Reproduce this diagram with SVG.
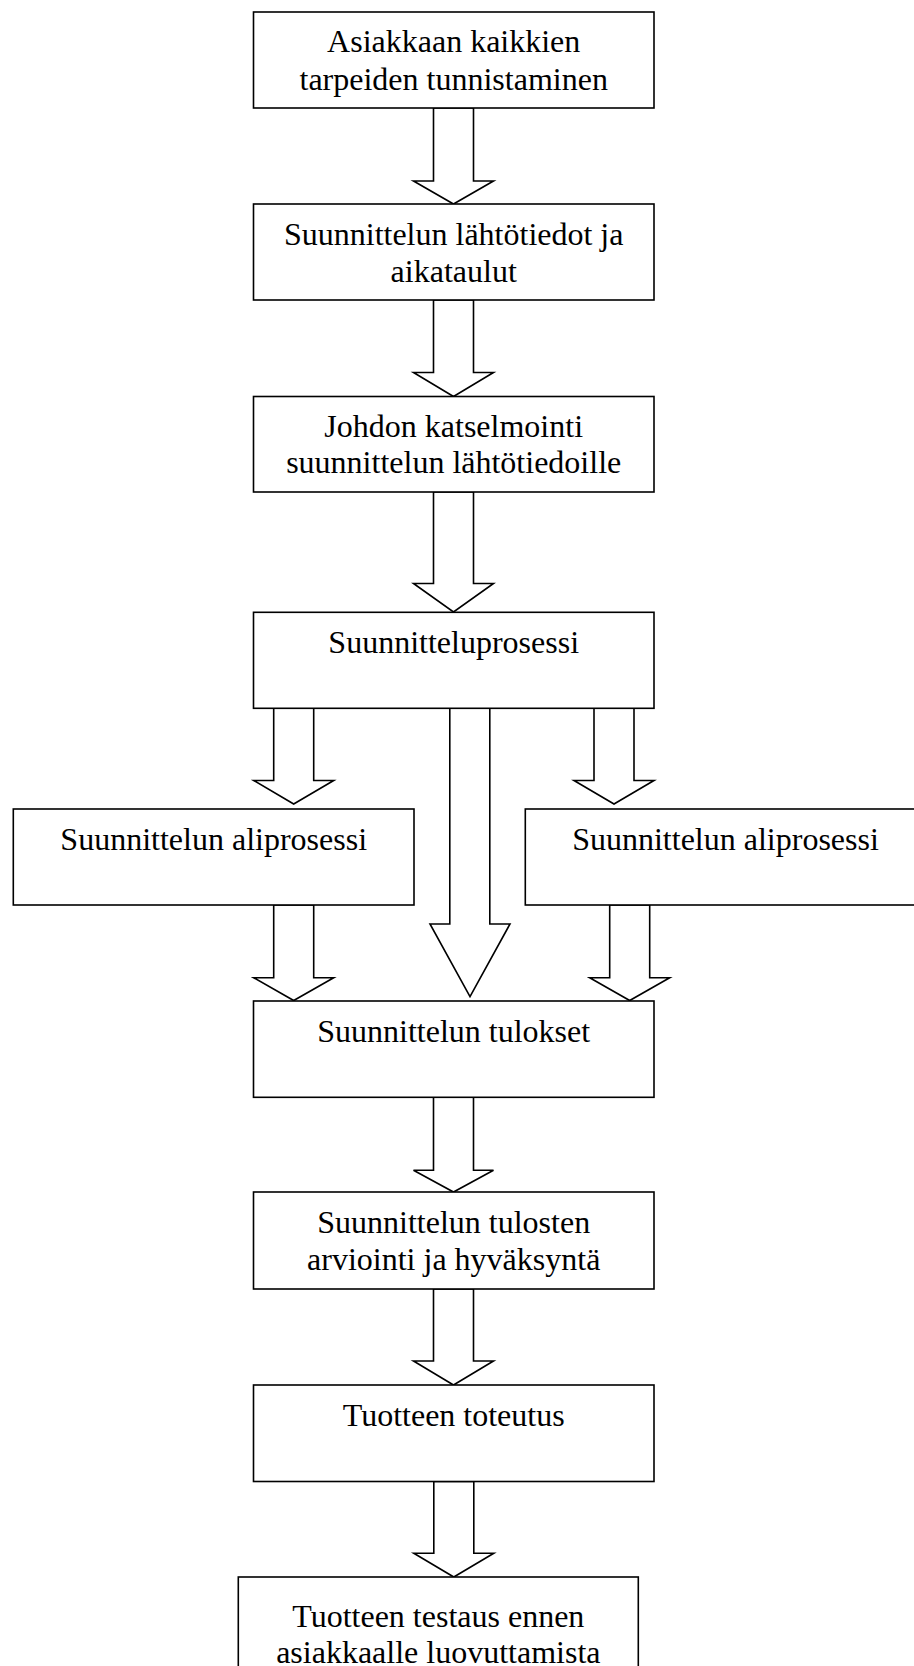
<svg xmlns="http://www.w3.org/2000/svg" width="914" height="1666" viewBox="0 0 914 1666">
<style>
.box{fill:#fff;stroke:#000;stroke-width:1.6}
.arr{fill:#fff;stroke:#000;stroke-width:1.6;stroke-linejoin:miter}
.t{font-family:"Liberation Serif","Times New Roman",serif;font-size:32px;fill:#000;text-anchor:middle}
</style>
<rect width="914" height="1666" fill="#fff"/>
<g id="connectors">
<polygon class="arr" points="433.5,108 433.5,181 413.5,181 453.5,204 493.5,181 473.5,181 473.5,108"/>
<polygon class="arr" points="433.5,300 433.5,372.5 413.5,372.5 453.5,396.5 493.5,372.5 473.5,372.5 473.5,300"/>
<polygon class="arr" points="433.5,492 433.5,583.5 413.5,583.5 453.5,612 493.5,583.5 473.5,583.5 473.5,492"/>
<polygon class="arr" points="273.7,708 273.7,780.5 253.7,780.5 293.7,804 333.7,780.5 313.7,780.5 313.7,708"/>
<polygon class="arr" points="594,708 594,780.5 574,780.5 614,804 654,780.5 634,780.5 634,708"/>
<polygon class="arr" points="449.8,708 449.8,924 430,924 470,996.7 510,924 489.8,924 489.8,708"/>
<polygon class="arr" points="273.7,905 273.7,977.7 253.7,977.7 293.7,1000.5 333.7,977.7 313.7,977.7 313.7,905"/>
<polygon class="arr" points="609.7,905 609.7,977.7 589.7,977.7 629.7,1000.5 669.7,977.7 649.7,977.7 649.7,905"/>
<polygon class="arr" points="433.5,1097 433.5,1170.3 413.5,1170.3 453.5,1192 493.5,1170.3 473.5,1170.3 473.5,1097"/>
<polygon class="arr" points="433.5,1289 433.5,1361 413.5,1361 453.5,1385 493.5,1361 473.5,1361 473.5,1289"/>
<polygon class="arr" points="433.8,1481.5 433.8,1553.3 413.8,1553.3 453.8,1577 493.8,1553.3 473.8,1553.3 473.8,1481.5"/>
</g>
<g id="n1">
<rect class="box" x="253.5" y="12" width="400.5" height="96"/>
<text class="t" x="453.7" y="51.7">Asiakkaan kaikkien</text>
<text class="t" x="453.7" y="89.5">tarpeiden tunnistaminen</text>
</g>
<g id="n2">
<rect class="box" x="253.5" y="204" width="400.5" height="96"/>
<text class="t" x="453.7" y="245">Suunnittelun lähtötiedot ja</text>
<text class="t" x="453.7" y="281.5">aikataulut</text>
</g>
<g id="n3">
<rect class="box" x="253.5" y="396.5" width="400.5" height="95.5"/>
<text class="t" x="453.7" y="436.7">Johdon katselmointi</text>
<text class="t" x="453.7" y="473.3">suunnittelun lähtötiedoille</text>
</g>
<g id="n4">
<rect class="box" x="253.5" y="612.3" width="400.5" height="96"/>
<text class="t" x="453.7" y="652.7">Suunnitteluprosessi</text>
</g>
<g id="n5">
<rect class="box" x="13.3" y="809" width="400.7" height="96"/>
<text class="t" x="213.7" y="849.7">Suunnittelun aliprosessi</text>
</g>
<g id="n6">
<rect class="box" x="525.3" y="809" width="400.7" height="96"/>
<text class="t" x="725.5" y="849.5">Suunnittelun aliprosessi</text>
</g>
<g id="n7">
<rect class="box" x="253.5" y="1001" width="400.5" height="96.3"/>
<text class="t" x="453.7" y="1041.7">Suunnittelun tulokset</text>
</g>
<g id="n8">
<rect class="box" x="253.5" y="1192" width="400.5" height="97"/>
<text class="t" x="453.7" y="1233.3">Suunnittelun tulosten</text>
<text class="t" x="453.7" y="1270">arviointi ja hyväksyntä</text>
</g>
<g id="n9">
<rect class="box" x="253.5" y="1385" width="400.5" height="96.5"/>
<text class="t" x="453.7" y="1426">Tuotteen toteutus</text>
</g>
<g id="n10">
<rect class="box" x="238.3" y="1577" width="400" height="100"/>
<text class="t" x="438.3" y="1626.7">Tuotteen testaus ennen</text>
<text class="t" x="438.3" y="1663">asiakkaalle luovuttamista</text>
</g>
</svg>
